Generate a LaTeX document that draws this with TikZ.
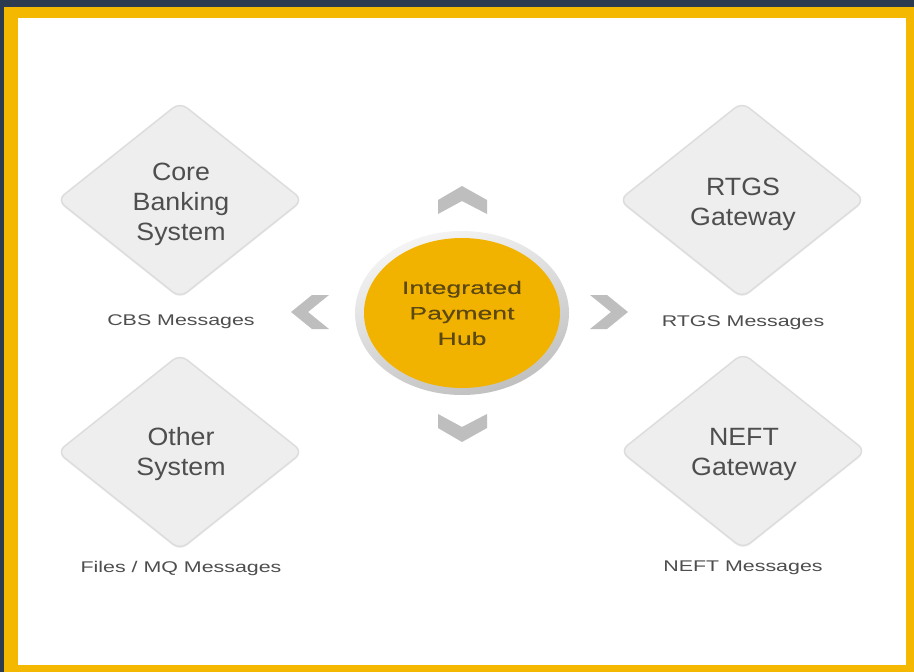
\documentclass[tikz,border=0pt]{standalone}
\usepackage{fontspec}
\setmainfont{Liberation Sans}
\newfontfamily\diafont[FakeStretch=1.07]{Liberation Sans}
\newfontfamily\labfont[FakeStretch=1.38]{Liberation Sans}
\newfontfamily\hubfont[FakeStretch=1.48,FakeBold=0.3]{Liberation Sans}
\usetikzlibrary{shapes.geometric,shadows}
\definecolor{navy}{HTML}{2C3B4F}
\definecolor{frame}{HTML}{F4B800}
\definecolor{hubyel}{HTML}{F2B300}
\definecolor{diafill}{HTML}{EEEEEE}
\definecolor{diaedge}{HTML}{DDDDDD}
\definecolor{txtgray}{HTML}{4E4E4E}
\definecolor{hubtxt}{HTML}{5C4812}
\definecolor{chevgray}{HTML}{BEBEBE}
\tikzset{
  diabox/.style={diamond, minimum width=246pt, minimum height=196pt, inner sep=0pt,
    fill=diafill, draw=diaedge, line width=1.5pt, rounded corners=9pt,
    drop shadow={opacity=0.12, shadow xshift=0pt, shadow yshift=-1.5pt}},
  diatext/.style={align=center, text=txtgray, font=\diafont\fontsize{25}{30}\selectfont},
  msglabel/.style={text=txtgray, font=\labfont\fontsize{15.5}{18}\selectfont},
  chevron/.style={fill=chevgray, draw=none},
}
\begin{document}
\begin{tikzpicture}[x=1pt,y=-1pt]
\useasboundingbox (0,0) rectangle (914,672);
\fill[navy] (0,0) rectangle (914,672);
\fill[frame] (4,7) rectangle (914,672);
\fill[white] (18,18) rectangle (906,665);

% diamonds
\node[diabox] (cbs) at (180,200) {};
\node[diabox] (oth) at (180,452) {};
\node[diabox] (rtgs) at (742,200) {};
\node[diabox] (neft) at (743,451) {};
\node[diatext] (cbst) at (181,204) {Core\\Banking\\System};
\node[diatext] (otht) at (181,454) {Other\\System};
\node[diatext] (rtgst) at (743,204) {RTGS\\Gateway};
\node[diatext] (neftt) at (744,454) {NEFT\\Gateway};

% labels
\node[msglabel] (cbsl) at (181,322) {CBS Messages};
\node[msglabel] (othl) at (181,568) {Files / MQ Messages};
\node[msglabel] (rtgsl) at (743,323) {RTGS Messages};
\node[msglabel] (neftl) at (743,568) {NEFT Messages};

% hub
\node[ellipse, minimum width=214pt, minimum height=164pt, inner sep=0pt,
  shading=axis, top color=gray!8, bottom color=gray!50, shading angle=20] (ring) at (462,313) {};
\node[ellipse, minimum width=196pt, minimum height=150pt, inner sep=0pt, fill=hubyel,
  align=center, text=hubtxt, font=\hubfont\fontsize{18}{25.5}\selectfont] (hub) at (462,313)
  {Integrated\\Payment\\Hub};

% chevrons
\fill[chevron] (462,186) -- (487,200) -- (487,214) -- (462,201) -- (438,214) -- (438,200) -- cycle;
\fill[chevron] (438,414) -- (462,427) -- (487,414) -- (487,428) -- (462,442) -- (438,428) -- cycle;
\fill[chevron] (291,312) -- (312,295) -- (329,295) -- (308,312) -- (329,329) -- (312,329) -- cycle;
\fill[chevron] (628,312) -- (607,295) -- (590,295) -- (611,312) -- (590,329) -- (607,329) -- cycle;
\end{tikzpicture}
\end{document}
